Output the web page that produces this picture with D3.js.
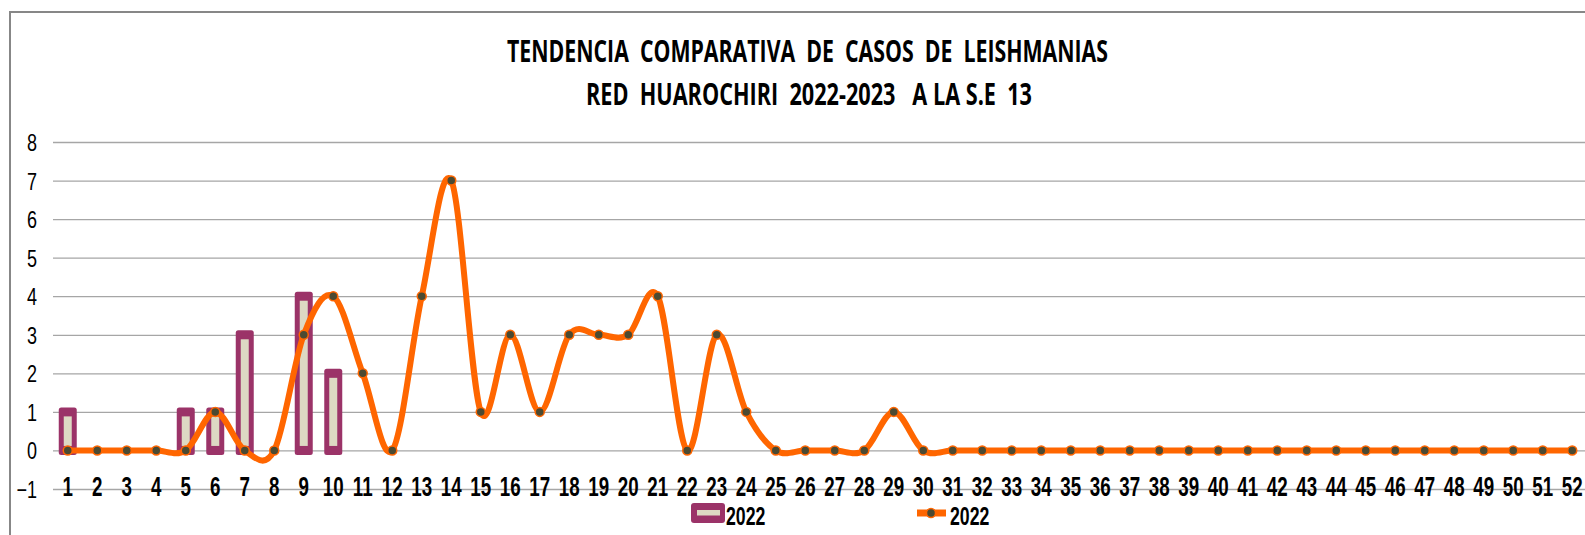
<!DOCTYPE html>
<html>
<head>
<meta charset="utf-8">
<script src="https://d3js.org/d3.v7.min.js"></script>
<style>
  body { margin: 0; background: #fff; }
  svg { display: block; }
</style>
</head>
<body>
<svg id="svg1" width="1585" height="535"></svg>
<script>
// weeks (S.E) 1..52
var weeks = d3.range(1, 53);

// bars: 2022 cases per week (only weeks with cases)
var barWeeks = [1, 5, 6, 7, 9, 10];
var barValues = [1, 1, 1, 3, 4, 2];

// line: second series (also labelled 2022 in the legend)
var lineValues = [0, 0, 0, 0, 0, 1, 0, 0, 3, 4,
                  2, 0, 4, 7, 1, 3, 1, 3, 3, 3,
                  4, 0, 3, 1, 0, 0, 0, 0, 1, 0,
                  0, 0, 0, 0, 0, 0, 0, 0, 0, 0,
                  0, 0, 0, 0, 0, 0, 0, 0, 0, 0,
                  0, 0];

var yTicks = [-1, 0, 1, 2, 3, 4, 5, 6, 7, 8];
var titleLines = ['TENDENCIA  COMPARATIVA  DE  CASOS  DE  LEISHMANIAS',
                  'RED  HUAROCHIRI  2022-2023   A LA S.E  13'];
var legendLabels = ['2022', '2022'];

var svg = d3.select('svg');

var purple = '#9b3368';
var tan = '#ddd9c3';
var orange = '#ff6600';
var dotFill = '#4b4a32';

//outer chart border (only top and left visible)
svg.append('path')
    .attr('d', 'M10,535 V12 H1585')
    .attr('fill', 'none')
    .attr('stroke', '#878787')
    .attr('stroke-width', 2);

//title
var titleBox = [[507, 62, 601], [586, 105, 446]];
svg.selectAll('.title')
    .data(titleLines)
    .enter()
    .append('text')
    .attr('class', 'title')
    .attr('x', function(d, i){ return titleBox[i][0]; })
    .attr('y', function(d, i){ return titleBox[i][1]; })
    .attr('textLength', function(d, i){ return titleBox[i][2]; })
    .attr('lengthAdjust', 'spacingAndGlyphs')
    .attr('font-family', '"Open Sans", sans-serif')
    .attr('font-weight', 'bold')
    .attr('font-size', 30)
    .attr('fill', '#000')
    .style('white-space', 'pre')
    .text(function(d){ return d; });

//scales
var x = d3.scaleBand()
    .domain(weeks)
    .range([53, 1587]);

var y = d3.scaleLinear()
    .domain([-1, 8])
    .range([489, 142]);

var cx = function(w){ return x(w) + x.bandwidth() / 2; };

//gridlines + y labels
var yAxis = svg.append('g')
    .attr('transform', 'translate(53,0)')
    .call(d3.axisLeft(y).tickValues(yTicks).tickSize(-1540).tickFormat(d3.format('d')));

yAxis.select('.domain').remove();
yAxis.selectAll('.tick line')
    .attr('stroke', '#a6a6a6')
    .attr('stroke-width', 1.3);
yAxis.selectAll('.tick text')
    .attr('x', 0)
    .attr('dy', 0)
    .attr('font-family', '"Liberation Sans", Arial, sans-serif')
    .attr('font-size', 24)
    .attr('fill', '#000')
    .attr('text-anchor', 'end')
    .attr('transform', function(d){ return 'translate(-16,8.5) scale(0.75,1)'; });

//bars (outer purple frame + inner tan fill)
var bars = svg.selectAll('.bar')
    .data(barWeeks.map(function(w, i){ return {week: w, value: barValues[i]}; }))
    .enter()
    .append('g')
    .attr('class', 'bar');

bars.append('rect')
    .attr('x', function(d){ return cx(d.week) - 9; })
    .attr('y', function(d){ return y(d.value) - 4.5; })
    .attr('width', 18)
    .attr('height', function(d){ return y(0) - y(d.value) + 9; })
    .attr('rx', 2.5)
    .attr('fill', purple);

bars.append('rect')
    .attr('x', function(d){ return cx(d.week) - 4; })
    .attr('y', function(d){ return y(d.value) + 4.5; })
    .attr('width', 8)
    .attr('height', function(d){ return Math.max(0, y(0) - y(d.value) - 9); })
    .attr('fill', tan);

//smoothed line
var line = d3.line()
    .x(function(d, i){ return cx(weeks[i]); })
    .y(function(d){ return y(d); })
    .curve(d3.curveCardinal.tension(0));

svg.append('path')
    .datum(lineValues)
    .attr('d', line)
    .attr('fill', 'none')
    .attr('stroke', orange)
    .attr('stroke-width', 6)
    .attr('stroke-linejoin', 'round');

svg.selectAll('.dot')
    .data(lineValues)
    .enter()
    .append('circle')
    .attr('class', 'dot')
    .attr('cx', function(d, i){ return cx(weeks[i]); })
    .attr('cy', function(d){ return y(d); })
    .attr('r', 4.5)
    .attr('fill', dotFill)
    .attr('stroke', orange)
    .attr('stroke-width', 1.5);

//x labels (bold, squeezed), sitting on the -1 gridline
svg.selectAll('.xlab')
    .data(weeks)
    .enter()
    .append('text')
    .attr('class', 'xlab')
    .attr('transform', function(d){ return 'translate(' + cx(d) + ',496) scale(0.67,1)'; })
    .attr('text-anchor', 'middle')
    .attr('font-family', '"Liberation Sans", Arial, sans-serif')
    .attr('font-weight', 'bold')
    .attr('font-size', 28)
    .attr('fill', '#000')
    .text(function(d){ return d; });

//legend
var legend = svg.append('g');

legend.append('rect')
    .attr('x', 691).attr('y', 503)
    .attr('width', 34).attr('height', 20)
    .attr('rx', 3)
    .attr('fill', purple);
legend.append('rect')
    .attr('x', 697).attr('y', 510)
    .attr('width', 23).attr('height', 5.5)
    .attr('fill', tan);

legend.append('line')
    .attr('x1', 917).attr('x2', 946)
    .attr('y1', 513).attr('y2', 513)
    .attr('stroke', orange)
    .attr('stroke-width', 7);
legend.append('circle')
    .attr('cx', 931).attr('cy', 513)
    .attr('r', 4.5)
    .attr('fill', dotFill)
    .attr('stroke', orange)
    .attr('stroke-width', 1.5);

legend.selectAll('.legtext')
    .data(legendLabels)
    .enter()
    .append('text')
    .attr('class', 'legtext')
    .attr('transform', function(d, i){ return 'translate(' + [726, 950][i] + ',525) scale(0.68,1)'; })
    .attr('font-family', '"Liberation Sans", Arial, sans-serif')
    .attr('font-weight', 'bold')
    .attr('font-size', 26)
    .attr('fill', '#000')
    .text(function(d){ return d; });
</script>
</body>
</html>
